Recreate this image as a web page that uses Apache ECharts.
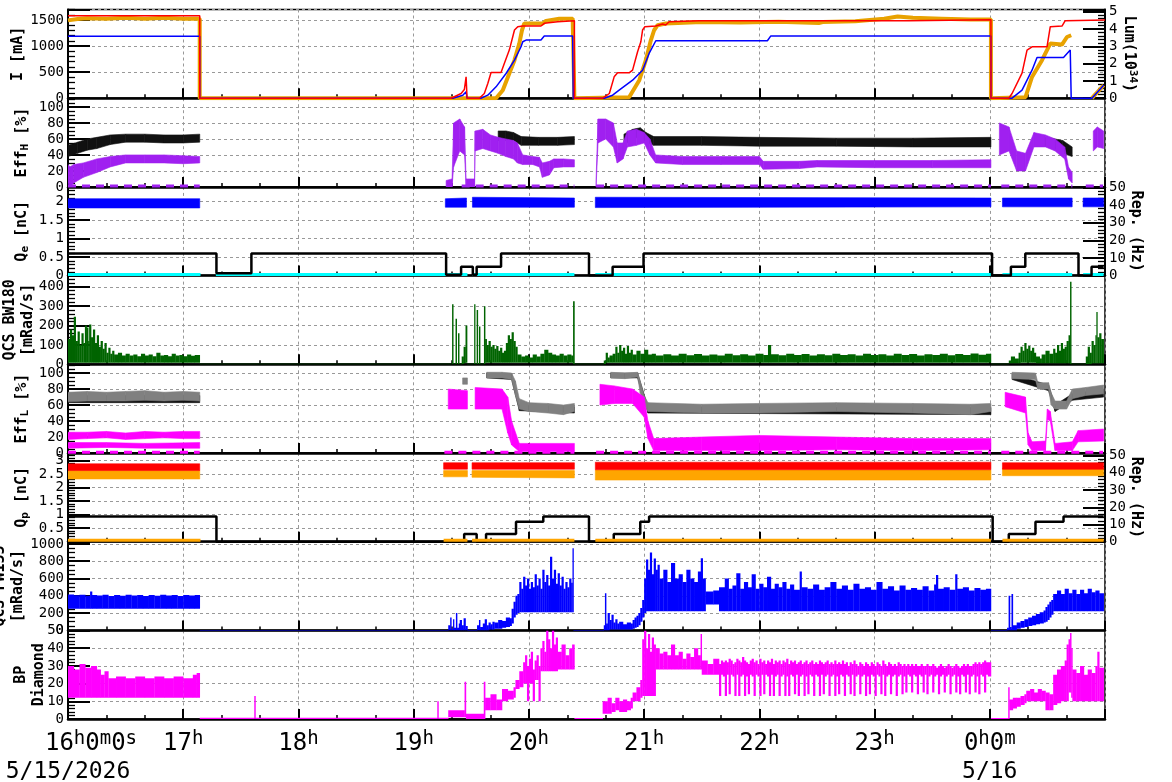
<!DOCTYPE html>
<html>
<head>
<meta charset="utf-8">
<script src="https://cdn.jsdelivr.net/npm/echarts@6/dist/echarts.min.js"></script>
<style>
html, body { margin: 0; padding: 0; background: #fff; }
#main { width: 1172px; height: 782px; }
</style>
</head>
<body>
<div id="main"></div>
<script>
// time = minutes after 16:00 on 5/15/2026
// ---- panel 1 : I [mA] / Lum
var iRed = [[0,1583],[68.6,1583],[68.6,0],[199.5,0],[204.7,90],[206.4,167],[207.3,410],[207.8,0],[214.2,0],[216.8,90],[218.6,282],[220.3,494],[225.5,494],[227.2,667],[229.8,923],[231.6,1179],[232.5,1308],[234.2,1372],[236.8,1385],[246.3,1385],[248,1436],[255,1468],[255.8,1487],[263.7,1487],[263.7,0],[278.4,0],[281.9,90],[284.4,410],[286.2,487],[292.2,487],[294,538],[296.6,891],[298.3,1083],[299.2,1308],[300.4,1372],[306.1,1385],[309.6,1423],[311.3,1404],[313,1468],[328.6,1487],[437.8,1487],[437.8,1505],[480.6,1505],[480.6,0],[489.9,0],[491.6,90],[496.8,480],[499.4,923],[502,987],[509.8,987],[511.5,1372],[517.6,1385],[519.3,1487],[540,1500]];
var iBlue = [[0,1190],[68.6,1190],[68.6,0],[200.4,0],[205.6,58],[207.3,122],[207.8,0],[215,0],[218.6,58],[222.9,218],[228.1,474],[232.5,731],[235.9,987],[236.8,1083],[238.5,1115],[246.3,1115],[248,1192],[262.8,1192],[263.1,0],[279.3,0],[283.6,58],[287,154],[294,346],[299.2,538],[302.6,859],[306.1,1102],[364.2,1102],[365.9,1192],[480.6,1192],[480.6,0],[491.6,0],[496.8,154],[502,538],[504.6,782],[518.4,782],[521.9,923],[522.4,0],[533.2,0],[539.3,250]];
var lum = [[0,4.5],[5,4.58],[10,4.62],[20,4.6],[30,4.65],[40,4.6],[50,4.65],[60,4.6],[68.6,4.6],[68.6,0],[222.9,0],[226.4,0.46],[229.8,1.43],[232.5,2.2],[235,3.16],[236.4,3.93],[237.6,4.32],[238.5,4.22],[247.2,4.32],[248.9,4.47],[255.8,4.6],[262.8,4.6],[263.7,0],[292.2,0.06],[297.5,1.04],[300.9,2.2],[303.5,3.35],[305.2,3.93],[307,4.22],[311.3,4.32],[330,4.4],[350,4.38],[370,4.42],[391,4.35],[392,4.25],[393,4.4],[410,4.45],[425,4.6],[432,4.72],[440,4.65],[455,4.6],[470,4.55],[480.6,4.55],[480.6,0],[498.6,0.06],[502,1.23],[507.2,2.2],[511.5,3.16],[517.6,3.1],[520.2,3.54],[522.4,3.64],null,[533.2,0],[539.3,0.75]];

// ---- panel 2 : Eff_H [%]  ([t, low, high])
var effHBlack = [[0,38,52],[5,42,56],[10,46,60],[15,48,62],[22,53,65],[30,56,66],[40,56,66],[50,55,65],[60,55,65],[68.6,56,66],null,[224,58,70],[228,58,70],[232,58,68],[236,52,63],[245,52,62],[255,52,62],[263.7,53,63],null,[289.5,52,66],[294,60,72],[298,63,74],[301,56,68],[305,52,63],[330,52,63],[360,51,62],[400,51,61],[440,50,61],[480.6,50,62],null,[505,52,63],[512,50,61],[518,42,58],[522.9,38,50]];
var effHPurple = [[0,5,28],[1,0,25],[3,5,28],[8,12,30],[15,18,35],[22,25,38],[30,30,40],[40,30,40],[50,30,40],[60,29,39],[68.6,30,38],null,[196.9,0,8],[200,0,10],[200.8,25,80],[204,45,85],[206.5,40,75],[207.3,0,10],[211.7,0,10],[212,45,70],[216,48,72],[220,45,65],[224,42,62],[228,38,60],[232,35,58],[234,30,55],[236.8,28,40],[242,28,38],[245.5,25,37],[247,12,30],[250.7,15,32],[253,24,35],[258,25,35],[263.7,25,34],null,[275,0,10],[276,55,85],[280,60,85],[284,50,80],[286,30,55],[289,35,55],[291.3,50,70],[296,52,72],[300,55,68],[303,40,60],[306,30,40],[320,28,38],[340,28,38],[360,28,38],[362,22,32],[381,23,32],[390,25,33],[420,24,33],[450,24,33],[480.6,24,34],null,[485,40,80],[490,45,75],[494,20,45],[498.6,20,42],[503,50,68],[509,50,65],[514,45,60],[519,35,50],[521,10,25],[522.9,5,18],null,[533.9,45,70],[536,50,75],[539.3,48,70]];
var effHZero = [[0,1],[68.6,1],null,[205,1],[263.7,1],null,[275,1],[480.6,1],null,[486,1],[523,1],null,[530,1],[539,1]];

// ---- panel 3 : Q_e [nC] / Rep. (Hz)
var qeBlue = [[0,1.83,2.08],[68.6,1.83,2.08],null,[196.5,1.85,2.08],[207.5,1.85,2.1],null,[210.6,1.85,2.12],[263.7,1.85,2.1],null,[274.6,1.84,2.12],[480.6,1.86,2.1],null,[486.6,1.86,2.1],[522.9,1.86,2.1],null,[528.6,1.86,2.1],[539.3,1.86,2.1]];
var qeCyan = [[0,0.03],[69,0.03],null,[77,0.03],[208,0.03],null,[210.6,0.03],[263.7,0.03],null,[274.6,0.03],[480.6,0.03],null,[486.6,0.03],[522.9,0.03],null,[528.6,0.03],[539.3,0.03]];
var qeRep = [[0,12.5],[77.3,12.5],[77.3,1.3],[95.5,1.3],[95.5,12.5],[196.9,12.5],[196.9,0.5],[204.7,0.5],[204.7,5],[210.8,5],[210.8,0.5],[212.8,0.5],[212.8,5],[225.5,5],[225.5,12.5],[271.3,12.5],[271.3,0],[283.6,0],[283.6,5],[299.7,5],[299.7,12.5],[481.2,12.5],[481.2,0],[491,0],[491,5],[498.5,5],[498.5,12.5],[526.2,12.5],[526.2,0],[533,0],[533,5],[539.3,5]];

// ---- panel 4 : QCS BW180 [mRad/s]
var bw180 = [[0,8,130],[1,8,180],[2,8,150],[3,8,245],[4,8,120],[5,8,170],[6,8,100],[7,8,160],[8,8,110],[8.8,8,200],[9.7,8,190],[10.5,8,120],[11,8,205],[12,8,140],[13,8,180],[14,8,110],[15,8,150],[16,8,90],[17,8,120],[18,8,80],[19,8,110],[20,8,60],[21,8,85],[22,8,55],[23,8,70],[24,8,50],[26,8,60],[28,8,45],[30,8,55],[32,8,45],[34,8,50],[36,8,42],[38,8,55],[40,8,45],[42,8,50],[44,8,42],[46,8,60],[48,8,45],[50,8,48],[52,8,42],[54,8,55],[56,8,45],[58,8,48],[60,8,42],[62,8,50],[64,8,44],[66,8,48],[68.6,0,3],[198,0,3],
  [200,0,310],[200.6,0,3],[201.8,0,235],[202.4,0,3],[203.1,0,160],[203.7,0,3],[205,0,40],[206,5,90],[207,8,200],[207.8,0,3],[211.5,0,310],[212,0,3],[212.8,0,280],[213.4,0,3],[214,0,195],[214.6,0,3],[216.6,0,300],[217.2,8,130],[218,8,100],[219,8,120],[220,8,90],[221,8,100],[222,8,80],[223,8,95],[224,8,70],[225,8,85],[226,8,60],[227,8,70],[228,8,110],[229,8,150],[230,8,130],[231,8,165],[232,8,120],[233,8,90],[234,8,50],[236,8,40],[238,8,45],[240,8,35],[242,8,50],[244,8,40],[246,8,55],[248,8,75],[250,8,60],[252,8,50],[254,8,45],[256,8,55],[258,8,45],[260,8,50],[262,8,45],[263,0,325],[263.7,0,3],
  [279,0,20],[280,8,60],[281,8,35],[282,8,45],[283.6,8,55],[285,8,90],[286,8,60],[287,8,100],[288,8,70],[289,8,85],[290,8,55],[291,8,95],[292,8,60],[293,8,75],[294,8,50],[296,8,70],[298,8,55],[300,8,75],[302,8,50],[304,8,55],[306,8,45],[310,8,52],[314,8,46],[318,8,55],[322,8,47],[326,8,53],[330,8,45],[334,8,50],[338,8,46],[342,8,54],[346,8,47],[350,8,52],[354,8,45],[358,8,55],[362,8,48],[364.5,8,100],[366,8,52],[370,8,47],[374,8,55],[378,8,48],[382,8,53],[386,8,46],[390,8,52],[394,8,47],[398,8,55],[402,8,48],[406,8,52],[410,8,46],[414,8,54],[418,8,48],[422,8,52],[426,8,46],[430,8,55],[434,8,48],[438,8,53],[442,8,46],[446,8,52],[450,8,48],[454,8,55],[458,8,47],[462,8,53],[466,8,48],[470,8,56],[474,8,49],[478,8,54],[480.6,0,3],
  [489.9,5,20],[491,5,40],[493,5,30],[495,5,60],[496,8,90],[497,8,70],[498,8,110],[499,8,80],[500,8,95],[501,8,70],[502,8,85],[503,8,60],[504,5,40],[506,5,30],[507,5,50],[509,5,70],[511,5,55],[513,5,80],[514,5,60],[515,5,100],[516,5,70],[517,5,110],[518,5,80],[519,5,90],[520,5,120],[521,5,150],[521.8,0,426],[522.4,0,3],[530,0,40],[531,0,90],[532,0,60],[533,5,120],[534,5,100],[535,5,150],[535.5,5,270],[536,5,140],[537,5,160],[538,5,130],[539.3,5,130]];

// ---- panel 5 : Eff_L [%]
var effLBlack = [[0,63,72],[68.6,63,72],null,[218,94,100],[231,92,99],[235,53,60],[263.7,50,58],null,[282.6,94,100],[296.6,94,100],[302,50,58],[480.6,48,57],null,[491.6,92,99],[510.6,78,85],[514,52,60],[523,66,74],[539.3,70,80]];
var effLGray = [[0,64,76],[10,65,77],[20,65,76],[30,65,77],[40,66,78],[50,65,76],[60,66,77],[68.6,65,76],null,[205.5,86,94],[208,86,94],null,[218,94,101],[226,94,101],[231,92,100],[233,72,90],[235,55,68],[240,52,63],[250,50,62],[258,48,60],[263.7,52,62],null,[282.6,94,101],[290,93,100],[296.6,95,101],[298,75,90],[300,60,72],[302,52,63],[330,50,61],[360,50,62],[400,52,63],[440,50,62],[470,48,61],[480.6,52,62],null,[491.6,93,101],[503.8,92,100],[505,80,88],[510.6,80,88],[512,60,75],[514,55,65],[520,55,65],[523,68,80],[530,72,82],[539.3,74,85]];
var effLMag = [[0,17,26],[10,18,26],[20,19,27],[30,17,25],[40,18,27],[50,19,26],[60,18,27],[68.6,18,27],null,[198,55,80],[208,55,78],null,[212,55,82],[226,55,80],[229,25,70],[231,10,40],[235,2,12],[263.7,2,12],null,[277,60,86],[284.4,62,84],[294,62,80],[300,45,70],[302,18,40],[305,3,18],[330,3,20],[360,3,22],[400,4,20],[440,3,18],[480.6,4,18],null,[488,58,76],[498.6,50,70],[500,10,25],[502,3,14],[509,3,15],[510,42,55],[511.5,40,52],[514,3,12],[523,3,14],[526,14,28],[539.3,15,30]];
var effLMagLow = [[0,6,13],[20,7,13],[40,6,12],[68.6,6,13]];
var effLZero = [[0,1],[68.6,1],null,[196,1],[263.7,1],null,[275,1],[480.6,1],null,[486,1],[539,1]];

// ---- panel 6 : Q_p [nC] / Rep. (Hz)
var qpOrange = [[0,2.32,2.63],[68.6,2.32,2.63],null,[195.6,2.4,2.63],[208,2.4,2.63],null,[210.4,2.38,2.63],[263.7,2.36,2.63],null,[274.6,2.28,2.65],[480.6,2.28,2.65],null,[486.6,2.44,2.72],[539.3,2.44,2.72]];
var qpRed = [[0,2.63,2.88],[68.6,2.63,2.88],null,[195.6,2.68,2.92],[208,2.68,2.92],null,[210.4,2.68,2.92],[263.7,2.68,2.92],null,[274.6,2.66,2.94],[480.6,2.66,2.94],null,[486.6,2.68,2.92],[539.3,2.68,2.92]];
var qpLow = [[0,0.05],[69,0.05],null,[195.6,0.05],[208,0.05],null,[210.4,0.05],[263.7,0.05],null,[274.6,0.05],[480.6,0.05],null,[486.6,0.05],[539.3,0.05]];
var qpRep = [[0,14.7],[77.3,14.7],[77.3,0],[206.3,0],[206.3,4.5],[212.8,4.5],[212.8,0],[217.7,0],[217.7,4.5],[233.3,4.5],[233.3,11.6],[247.5,11.6],[247.5,14.7],[271.3,14.7],[271.3,0],[284.2,0],[284.2,4.5],[298,4.5],[298,11.6],[302.6,11.6],[302.6,14.7],[481.5,14.7],[481.5,0],[489.9,0],[489.9,4.5],[503.8,4.5],[503.8,11.6],[518.4,11.6],[518.4,14.7],[539.3,14.7]];

// ---- panel 7 : QCS FW155 [mRad/s]
var fw155 = [[0,250,415],[3,250,405],[6,250,412],[9,250,400],[11.5,250,450],[12.5,250,410],[15,250,402],[18,250,412],[21,250,398],[24,250,408],[27,250,400],[30,250,412],[33,250,402],[36,250,410],[39,250,398],[42,250,408],[45,250,400],[48,250,412],[51,250,402],[54,250,408],[57,250,398],[60,250,410],[63,250,402],[66,250,408],[68.6,0,6],
  [198,0,60],[199,0,150],[199.6,0,20],[200.5,0,130],[201,0,30],[202,0,200],[202.6,0,30],[203.5,0,80],[204,0,120],[205,0,60],[206,0,140],[207,0,50],[208,0,6],[213,0,60],[214,0,120],[214.6,0,40],[216,0,80],[217,0,130],[218,0,60],[219,10,90],[220,10,70],[221,10,100],[222,20,90],[224,20,120],[226,30,110],[228,40,150],[230,50,140],[231,80,250],[232,150,330],[233,180,400],[234,200,420],[235,210,560],[236,210,480],[237,210,620],[238,210,520],[239,210,600],[240,210,480],[241,210,560],[242,210,500],[243,210,650],[244,210,520],[245,210,600],[246,210,480],[247,210,700],[248,210,560],[249,210,640],[250,210,520],[251,210,850],[252,210,600],[253,210,700],[254,210,540],[255,210,660],[256,210,520],[257,210,620],[258,210,480],[259,210,560],[260,210,500],[261,210,600],[262,210,550],[262.7,210,950],[263.2,0,6],
  [279,0,60],[279.6,0,430],[280.2,0,80],[281,0,200],[282,10,120],[283,10,180],[284,10,90],[285,10,130],[286,10,80],[287,10,100],[289,10,70],[291,10,90],[293,10,80],[294,20,120],[295,30,150],[296,40,170],[297,60,200],[298,100,260],[299,150,350],[300,200,600],[301,220,820],[302,220,700],[303,220,900],[304,220,650],[305,220,830],[306,220,700],[307,220,760],[308,220,600],[310,220,700],[312,220,560],[314,220,780],[316,220,600],[318,220,650],[320,220,560],[322,220,700],[324,220,600],[326,220,560],[328,220,680],[329.5,220,835],[330.5,220,600],[332,300,450],[336,300,460],[339,220,500],[342,220,600],[344,220,480],[346,220,520],[348,220,660],[350,220,480],[352,220,560],[354,220,500],[356,220,650],[358,220,480],[360,220,540],[362,220,500],[364,220,620],[366,220,480],[368,220,540],[370,220,500],[372,220,560],[374,220,480],[376,220,530],[378,220,470],[381,220,680],[382,220,500],[385,220,480],[388,220,530],[391,220,470],[394,220,500],[397,220,560],[400,220,480],[403,220,520],[406,220,470],[409,220,540],[412,220,480],[415,220,500],[418,220,470],[421,220,560],[424,220,480],[427,220,510],[430,220,460],[433,220,520],[436,220,470],[439,220,490],[442,220,470],[445,220,510],[448,220,460],[451,220,530],[452,220,640],[453,220,480],[456,220,500],[459,220,470],[462,220,650],[463,220,480],[466,220,500],[469,220,460],[472,220,490],[475,220,470],[478,220,480],[480.6,0,6],
  [489,0,30],[489.8,0,400],[490.5,0,40],[491.3,0,420],[492,0,60],[494,20,90],[496,30,110],[498,40,130],[500,50,150],[502,60,170],[504,70,190],[506,80,210],[508,90,230],[509,100,270],[510,120,300],[511,150,330],[512,180,350],[513,220,420],[515,220,460],[517,220,420],[519,220,480],[521,220,430],[523,220,470],[525,220,420],[527,220,470],[529,220,430],[531,220,480],[533,220,440],[535,220,460],[537,220,430],[539.3,220,430]];

// ---- panel 8 : BP Diamond
var bpDiamond = [[0,12,30],[3,12,28],[6,12,31],[9,12,29],[12,12,30],[15,12,28],[17,12,25],[19,12,27],[21,12,23],[25,12,24],[30,12,23],[35,12,24],[40,12,23],[45,12,24],[50,12,23],[55,12,24],[60,12,23],[65,12,25],[67,12,26],[68.6,0,0.8],[97,0,13],[97.6,0,0.8],[192.3,0,10],[192.9,0,0.8],[198,1,5],[206.5,1,21],[207.2,0,3],[216.5,0,21],[217.2,5,12],[220,5,14],[223,5,11],[226,10,17],[229,11,16],[232,12,18],[233,17,22],[235,18,27],[237,20,32],[238,20,36],[239,10,30],[240,20,34],[241,20,38],[242,10,28],[243,22,33],[244,22,36],[245,10,30],[246,27,40],[247,27,44],[248,27,38],[249,27,50],[250,27,45],[251,27,40],[252,27,50],[253,27,42],[254,27,46],[255,28,38],[257,28,42],[259,28,36],[261,28,40],[262.5,28,42],[263.7,0,0.6],[278.4,3,10],[281,3,12],[283,4,9],[285,5,12],[287,4,10],[289,4,11],[291,5,10],[293,6,12],[294,10,15],[296,10,18],[298,12,22],[299,13,45],[300,13,50],[301,13,40],[302,13,48],[303,13,38],[304,13,46],[305,13,42],[306,28,40],[308,28,37],[310,28,38],[312,28,36],[314,28,42],[316,28,36],[318,28,38],[320,28,34],[322,28,37],[324,28,35],[326,28,40],[328,28,36],[329.4,28,48],[330,25,33],[333,25,31],[336,25,34],
  [339,13,31],[340,25,33],[341,24,32],[342,13,33],[343,25,32],[344,14,34],[345,25,33],[346,24,31],[347,13,32],[348,25,34],[349,13,33],[350,24,32],[351,25,35],[352,13,33],[353,24,32],[354,14,31],[355,25,33],[356,24,34],[357,13,32],[358,25,33],[359,24,31],[360,13,34],[361,25,32],[362,14,33],[363,25,31],[364,24,33],[365,13,32],[366,25,34],[367,13,31],[368,24,33],[369,25,32],[370,13,33],[371,24,31],[372,25,33],[373,13,32],[374,24,34],[375,13,31],[376,25,33],[377,24,32],[378,14,33],[379,25,31],[380,13,32],[381,24,33],[382,25,31],[383,13,32],[384,24,33],[385,14,31],[386,25,32],[387,24,33],[388,13,31],[389,25,32],[390,24,31],[391,13,33],[392,25,32],[393,14,31],[394,24,32],[395,25,33],[396,13,31],[397,24,32],[398,25,31],[399,13,33],[400,24,31],[401,14,32],[402,25,31],[403,24,33],[404,13,31],[405,25,32],[406,24,30],[407,14,32],[408,25,31],[409,13,33],[410,24,31],[411,25,30],[412,14,32],[413,24,31],[414,25,30],[415,13,32],[416,24,31],[417,14,30],[418,25,32],[419,24,31],[420,13,30],[421,25,32],[422,24,31],[423,14,30],[424,25,33],[425,13,31],[426,24,30],[427,25,32],[428,14,31],[429,24,30],[430,25,31],[431,13,30],[432,24,32],[433,25,31],[434,14,30],[435,24,31],[436,15,30],[437,25,31],[438,24,30],[439,15,31],[440,25,30],[441,24,31],[442,14,30],[443,25,30],[444,24,31],[445,15,30],[446,25,30],[447,14,31],[448,24,30],[449,25,30],[450,15,31],[451,24,30],[452,25,29],[453,14,30],[454,24,31],[455,25,30],[456,15,29],[457,24,30],[458,25,31],[459,14,30],[460,24,29],[461,25,30],[462,15,31],[463,24,30],[464,14,29],[465,25,30],[466,24,31],[467,15,30],[468,25,31],[469,14,30],[470,24,30],[471,25,31],[472,15,32],[473,24,31],[474,14,32],[475,25,31],[476,24,32],[477,15,33],[478,25,32],[479,24,32],[480.6,0,0.6],
  [489.6,0,18],[490.2,5,11],[492,6,12],[494,7,12],[496,8,13],[498,9,14],[499,10,16],[501,10,17],[503,10,15],[505,10,17],[507,10,16],[509,5,15],[511,5,14],[513,8,25],[515,9,28],[517,10,30],[519,10,33],[520,10,42],[521,15,45],[521.8,15,48.6],[522.4,12,40],[523,10,28],[525,10,26],[527,10,30],[529,10,25],[531,10,28],[533,10,26],[535,10,30],[536,10,38],[537,10,29],[539.3,10,29]];

var MONO = 'DejaVu Sans Mono';
var GRID_TOP = 9.5, PANEL_H = 88.7;

function band(arr, xi, yi, color, mode) {
	return {
		type : 'custom',
		xAxisIndex : xi,
		yAxisIndex : yi,
		clip : true,
		silent : true,
		encode : { x : 0, y : [ 1, 2 ] },
		data : arr.map(function(d) { return d ? d : [ '-', '-', '-' ]; }),
		renderItem : function(params, api) {
			var i = params.dataIndex, a = arr[i], b = arr[i + 1];
			if (!a || !b) return;
			var p0 = api.coord([ a[0], a[1] ]), p1 = api.coord([ a[0], a[2] ]);
			var q0 = api.coord([ b[0], b[1] ]), q1 = api.coord([ b[0], b[2] ]);
			if (mode == 'bar') {
				return {
					type : 'rect',
					shape : { x : p0[0], y : p1[1], width : Math.max(q0[0] - p0[0], 1) + 0.3, height : Math.max(p0[1] - p1[1], 1) },
					style : { fill : color }
				};
			}
			return {
				type : 'polygon',
				shape : { points : [ p0, q0, q1, p1 ] },
				style : { fill : color, stroke : color, lineWidth : 0.6 }
			};
		}
	};
}

function line(arr, xi, yi, color, width, dash) {
	return {
		type : 'line',
		xAxisIndex : xi,
		yAxisIndex : yi,
		data : arr.map(function(d) { return d ? d : [ '-', '-' ]; }),
		showSymbol : false,
		symbol : 'none',
		clip : true,
		silent : true,
		lineStyle : { color : color, width : width, type : dash || 'solid' }
	};
}

var nameRich = {
	a : { fontFamily : MONO, fontSize : 15, fontWeight : 'bold', lineHeight : 18, color : '#000' },
	sub : { fontFamily : MONO, fontSize : 11, fontWeight : 'bold', lineHeight : 12, verticalAlign : 'bottom', color : '#000' },
	sup : { fontFamily : MONO, fontSize : 11, fontWeight : 'bold', lineHeight : 12, verticalAlign : 'top', color : '#000' }
};

function plainNum(v) {
	return String(+v.toFixed(2));
}

var grids = [], xAxes = [], yAxes = [];
for ( var k = 0; k < 8; k++) {
	grids.push({
		left : 68, right : 67, top : GRID_TOP + k * PANEL_H, height : PANEL_H,
		show : true, borderColor : '#000', borderWidth : 1.5, backgroundColor : '#fff',
		outerBoundsMode : 'none', containLabel : false
	});
	xAxes.push({
		type : 'value', gridIndex : k, min : 0, max : 540, interval : 60,
		axisLine : { onZero : false, lineStyle : { color : '#000', width : 2.5 } },
		axisTick : { inside : true, length : 10, lineStyle : { color : '#000', width : 2 } },
		minorTick : { show : true, splitNumber : 3, length : 4, lineStyle : { color : '#000', width : 1.5 } },
		splitLine : { show : true, lineStyle : { color : '#999', type : [ 3, 3 ], width : 1 } },
		axisLabel : k < 7 ? { show : false } : {
			show : true, margin : 10, color : '#000', fontFamily : MONO, showMaxLabel : false,
			formatter : function(v) {
				if (v == 0) return '{pad|}{n|16}{s|h}{n|0}{s|m}{n|0}{s|s}\n{d|5/15/2026}';
				if (v == 480) return '{n|0}{s|h}{n|0}{s|m}\n{d|5/16}';
				return '{n|' + ((16 + v / 60) % 24) + '}{s|h}';
			},
			rich : {
				pad : { width : 46 },
				n : { fontFamily : MONO, fontSize : 24, lineHeight : 30, color : '#000' },
				s : { fontFamily : MONO, fontSize : 19, lineHeight : 14, verticalAlign : 'top', color : '#000' },
				d : { fontFamily : MONO, fontSize : 23, lineHeight : 26, color : '#000' }
			}
		}
	});
}

function leftAxis(k, max, interval, name, gap, minorSplit) {
	return {
		type : 'value', gridIndex : k, position : 'left', min : 0, max : max, interval : interval,
		axisLine : { show : true, onZero : false, lineStyle : { color : '#000', width : 2 } },
		axisTick : { show : true, inside : true, length : 22, lineStyle : { color : '#000', width : 2 } },
		minorTick : { show : true, splitNumber : minorSplit, length : 7, lineStyle : { color : '#000', width : 1.3 } },
		splitLine : { show : true, lineStyle : { color : '#999', type : [ 3, 3 ], width : 1 } },
		axisLabel : { color : '#000', fontFamily : MONO, fontSize : 14, margin : 4, showMaxLabel : max % interval == 0, formatter : plainNum },
		name : name, nameLocation : 'middle', nameRotate : 90, nameGap : gap, nameMoveOverlap : false,
		nameTextStyle : { fontFamily : MONO, fontSize : 15, fontWeight : 'bold', color : '#000', lineHeight : 18, rich : nameRich }
	};
}
function rightAxis(k, max, interval, name, gap) {
	return {
		type : 'value', gridIndex : k, position : 'right', min : 0, max : max, interval : interval,
		axisLine : { show : true, onZero : false, lineStyle : { color : '#000', width : 2 } },
		axisTick : { show : true, inside : true, length : 22, lineStyle : { color : '#000', width : 2 } },
		minorTick : { show : true, splitNumber : 5, length : 7, lineStyle : { color : '#000', width : 1.3 } },
		splitLine : { show : false },
		axisLabel : { color : '#000', fontFamily : MONO, fontSize : 14, margin : 4, showMaxLabel : false, formatter : plainNum },
		name : name, nameLocation : 'middle', nameRotate : -90, nameGap : gap, nameMoveOverlap : false,
		nameTextStyle : { fontFamily : MONO, fontSize : 15, fontWeight : 'bold', color : '#000', lineHeight : 18, rich : nameRich }
	};
}

yAxes.push(leftAxis(0, 1702, 500, '{a|I [mA]}', 41, 5));
yAxes.push(leftAxis(1, 111, 20, '{a|Eff}{sub|H}{a| [%]}', 37, 4));
yAxes.push(leftAxis(2, 2.4, 0.5, '{a|Q}{sub|e}{a| [nC]}', 37, 5));
yAxes.push(leftAxis(3, 458, 100, '{a|QCS BW180}\n{a|[mRad/s]}', 31, 5));
yAxes.push(leftAxis(4, 111, 20, '{a|Eff}{sub|L}{a| [%]}', 37, 4));
yAxes.push(leftAxis(5, 3.28, 0.5, '{a|Q}{sub|p}{a| [nC]}', 37, 5));
yAxes.push(leftAxis(6, 1025, 200, '{a|QCS FW155}\n{a|[mRad/s]}', 41, 4));
yAxes.push(leftAxis(7, 50, 10, '{a|BP}\n{a|Diamond}', 20, 5));
yAxes.push(rightAxis(0, 5.13, 1, '{a|Lum(10}{sup|34}{a|)}', 15)); // 8
yAxes.push(rightAxis(2, 50.4, 10, '{a|Rep. (Hz)}', 22)); // 9
yAxes.push(rightAxis(5, 51.5, 10, '{a|Rep. (Hz)}', 22)); // 10

var series = [
	line(lum, 0, 8, '#e8a200', 4),
	line(iBlue, 0, 0, '#0000ff', 1.5),
	line(iRed, 0, 0, '#ff0000', 1.5),

	band(effHBlack, 1, 1, '#111111'),
	band(effHPurple, 1, 1, '#a020f0'),
	line(effHZero, 1, 1, '#a020f0', 3, [ 8, 6 ]),

	band(qeBlue, 2, 2, '#0000ff'),
	line(qeCyan, 2, 2, '#00ffff', 3),
	line(qeRep, 2, 9, '#000000', 2.5),

	band(bw180, 3, 3, '#006400', 'bar'),

	band(effLBlack, 4, 4, '#111111'),
	band(effLGray, 4, 4, '#808080'),
	band(effLMagLow, 4, 4, '#ff00ff'),
	band(effLMag, 4, 4, '#ff00ff'),
	line(effLZero, 4, 4, '#ff00ff', 3, [ 8, 6 ]),

	band(qpOrange, 5, 5, '#ffa500'),
	band(qpRed, 5, 5, '#ff0000'),
	line(qpRep, 5, 10, '#000000', 2.5),
	line(qpLow, 5, 5, '#ffa500', 3),

	band(fw155, 6, 6, '#0000ff', 'bar'),
	band(bpDiamond, 7, 7, '#ff00ff', 'bar')
];

var myChart = echarts.init(document.getElementById('main'), null, { renderer : 'canvas' });
myChart.setOption({
	backgroundColor : '#ffffff',
	animation : false,
	grid : grids,
	xAxis : xAxes,
	yAxis : yAxes,
	series : series
});

window.onresize = function() {
	myChart.resize && myChart.resize();
};
</script>
</body>
</html>
